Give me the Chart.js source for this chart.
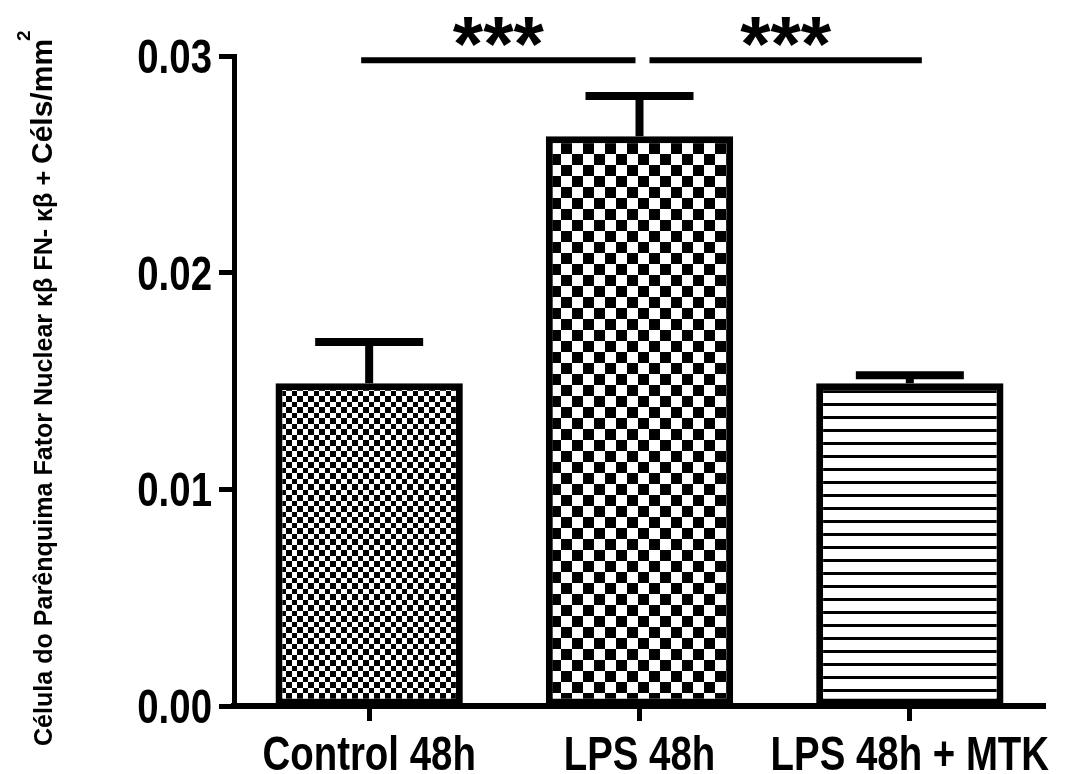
<!DOCTYPE html>
<html>
<head>
<meta charset="utf-8">
<script src="https://cdn.jsdelivr.net/npm/chart.js@4.4.1/dist/chart.umd.min.js"></script>
<style>
html, body { margin: 0; padding: 0; background: #fff; }
#chart { display: block; }
</style>
</head>
<body>
<canvas id="chart" width="1074" height="774"></canvas>
<script>
// data
var categories = ['Control 48h', 'LPS 48h', 'LPS 48h + MTK'];
var means = [0.0149, 0.0263, 0.0149];
var sems = [0.0019, 0.00185, 0.00037];
var yTicks = [0, 0.01, 0.02, 0.03];
var comparisons = [[0, 1], [1, 2]];
var compLabels = ['***', '***'];
var compLevel = 0.0298;
var yTitleMain = 'Célula do Parênquima Fator Nuclear κβ FN- κβ + ';
var yTitleUnit = 'Céls/mm';
var yTitleSup = '2';

var SANS = '"Liberation Sans", Arial, sans-serif';
var SQUASH = 0.8;   // the figure's lettering is condensed

function makePattern(kind)
{
    var c = document.createElement('canvas');
    var g;
    if (kind === 'fine') {
        c.width = 11; c.height = 11;
        g = c.getContext('2d');
        g.fillStyle = '#fff'; g.fillRect(0, 0, 11, 11);
        g.fillStyle = '#000';
        g.fillRect(0, 0, 6, 6);
        g.fillRect(6, 6, 5, 5);
    } else if (kind === 'coarse') {
        c.width = 22; c.height = 22;
        g = c.getContext('2d');
        g.fillStyle = '#fff'; g.fillRect(0, 0, 22, 22);
        g.fillStyle = '#000';
        g.fillRect(0, 0, 11, 11);
        g.fillRect(11, 11, 11, 11);
    } else {
        c.width = 8; c.height = 13;
        g = c.getContext('2d');
        g.fillStyle = '#fff'; g.fillRect(0, 0, 8, 13);
        g.fillStyle = '#000';
        g.fillRect(0, 0, 8, 3);
    }
    var ctx = document.getElementById('chart').getContext('2d');
    return ctx.createPattern(c, 'repeat');
}

function squashText(ctx, text, x, y, sx, align)
{
    ctx.save();
    ctx.translate(x, y);
    ctx.scale(sx, 1);
    ctx.textAlign = align;
    ctx.fillText(text, 0, 0);
    ctx.restore();
}

var overlay = {
    id: 'overlay',
    afterDatasetsDraw: function(chart) {
        var ctx = chart.ctx;
        var y = chart.scales.y;
        var bars = chart.getDatasetMeta(0).data;
        ctx.save();
        ctx.strokeStyle = '#000';
        ctx.fillStyle = '#000';

        // error bars (mean + SEM)
        ctx.lineWidth = 8;
        bars.forEach(function(bar, i) {
            var top = y.getPixelForValue(means[i] + sems[i]);
            ctx.beginPath();
            ctx.moveTo(bar.x, bar.y);
            ctx.lineTo(bar.x, top);
            ctx.moveTo(bar.x - 54, top);
            ctx.lineTo(bar.x + 54, top);
            ctx.stroke();
        });

        // significance lines
        var startOff = [-8, 10];
        var endOff = [-4, 12];
        var ly = y.getPixelForValue(compLevel);
        ctx.lineWidth = 6;
        ctx.font = 'bold 78px ' + SANS;
        ctx.textAlign = 'center';
        ctx.textBaseline = 'alphabetic';
        comparisons.forEach(function(pair, k) {
            var x1 = bars[pair[0]].x + startOff[k];
            var x2 = bars[pair[1]].x + endOff[k];
            ctx.beginPath();
            ctx.moveTo(x1, ly);
            ctx.lineTo(x2, ly);
            ctx.stroke();
            var m = ctx.measureText(compLabels[k]);
            var cy = ly - 28;
            var base = cy - (m.actualBoundingBoxDescent - m.actualBoundingBoxAscent) / 2;
            ctx.fillText(compLabels[k], (x1 + x2) / 2, base);
        });
        ctx.restore();
    },
    afterDraw: function(chart) {
        var ctx = chart.ctx;
        var xs = chart.scales.x;
        var ys = chart.scales.y;
        ctx.save();
        ctx.fillStyle = '#000';
        ctx.textBaseline = 'alphabetic';
        ctx.font = 'bold 48px ' + SANS;

        // y tick labels
        yTicks.forEach(function(v) {
            squashText(ctx, v.toFixed(2), ys.right - 22, ys.getPixelForValue(v) + 17, SQUASH, 'right');
        });
        // x tick labels
        categories.forEach(function(c, i) {
            squashText(ctx, c, xs.getPixelForTick(i), xs.top + 64, SQUASH, 'center');
        });

        // y axis title
        ctx.translate(52, 746);
        ctx.rotate(-Math.PI / 2);
        ctx.textAlign = 'left';
        ctx.font = 'bold 26px ' + SANS;
        var w1 = ctx.measureText(yTitleMain).width;
        var sx = 582 / w1;
        ctx.save();
        ctx.scale(sx, 1);
        ctx.fillText(yTitleMain, 0, 0);
        ctx.restore();
        var x = w1 * sx;
        ctx.font = 'bold 30px ' + SANS;
        ctx.fillText(yTitleUnit, x, 0);
        x += ctx.measureText(yTitleUnit).width;
        ctx.font = 'bold 19px ' + SANS;
        ctx.fillText(yTitleSup, x - 2, -22);
        ctx.restore();
    }
};

var myBarChart = new Chart(document.getElementById('chart'), {
    type: 'bar',
    data: {
        labels: categories,
        datasets: [{
            data: means,
            backgroundColor: [makePattern('fine'), makePattern('coarse'), makePattern('stripes')],
            borderColor: '#000',
            borderWidth: 7,
            borderSkipped: false,
            barPercentage: 0.693,
            categoryPercentage: 1
        }]
    },
    options: {
        responsive: false,
        animation: false,
        devicePixelRatio: 1,
        layout: { padding: { left: 0, right: 29, top: 56, bottom: 0 } },
        plugins: { legend: { display: false }, tooltip: { enabled: false } },
        scales: {
            x: {
                offset: true,
                grid: { display: true, drawOnChartArea: false, drawTicks: true, offset: false, tickLength: 15, tickWidth: 5, tickColor: '#000' },
                border: { display: true, color: '#000', width: 6 },
                ticks: { display: false },
                afterFit: function(scale) { scale.height = 68; }
            },
            y: {
                min: 0,
                max: 0.03,
                afterBuildTicks: function(scale) {
                    scale.ticks = yTicks.map(function(v) { return { value: v }; });
                },
                grid: { display: true, drawOnChartArea: false, drawTicks: true, tickLength: 15, tickWidth: 5, tickColor: '#000' },
                border: { display: true, color: '#000', width: 5 },
                ticks: { display: false },
                afterFit: function(scale) { scale.width = 234; }
            }
        }
    },
    plugins: [overlay]
});
</script>
</body>
</html>
